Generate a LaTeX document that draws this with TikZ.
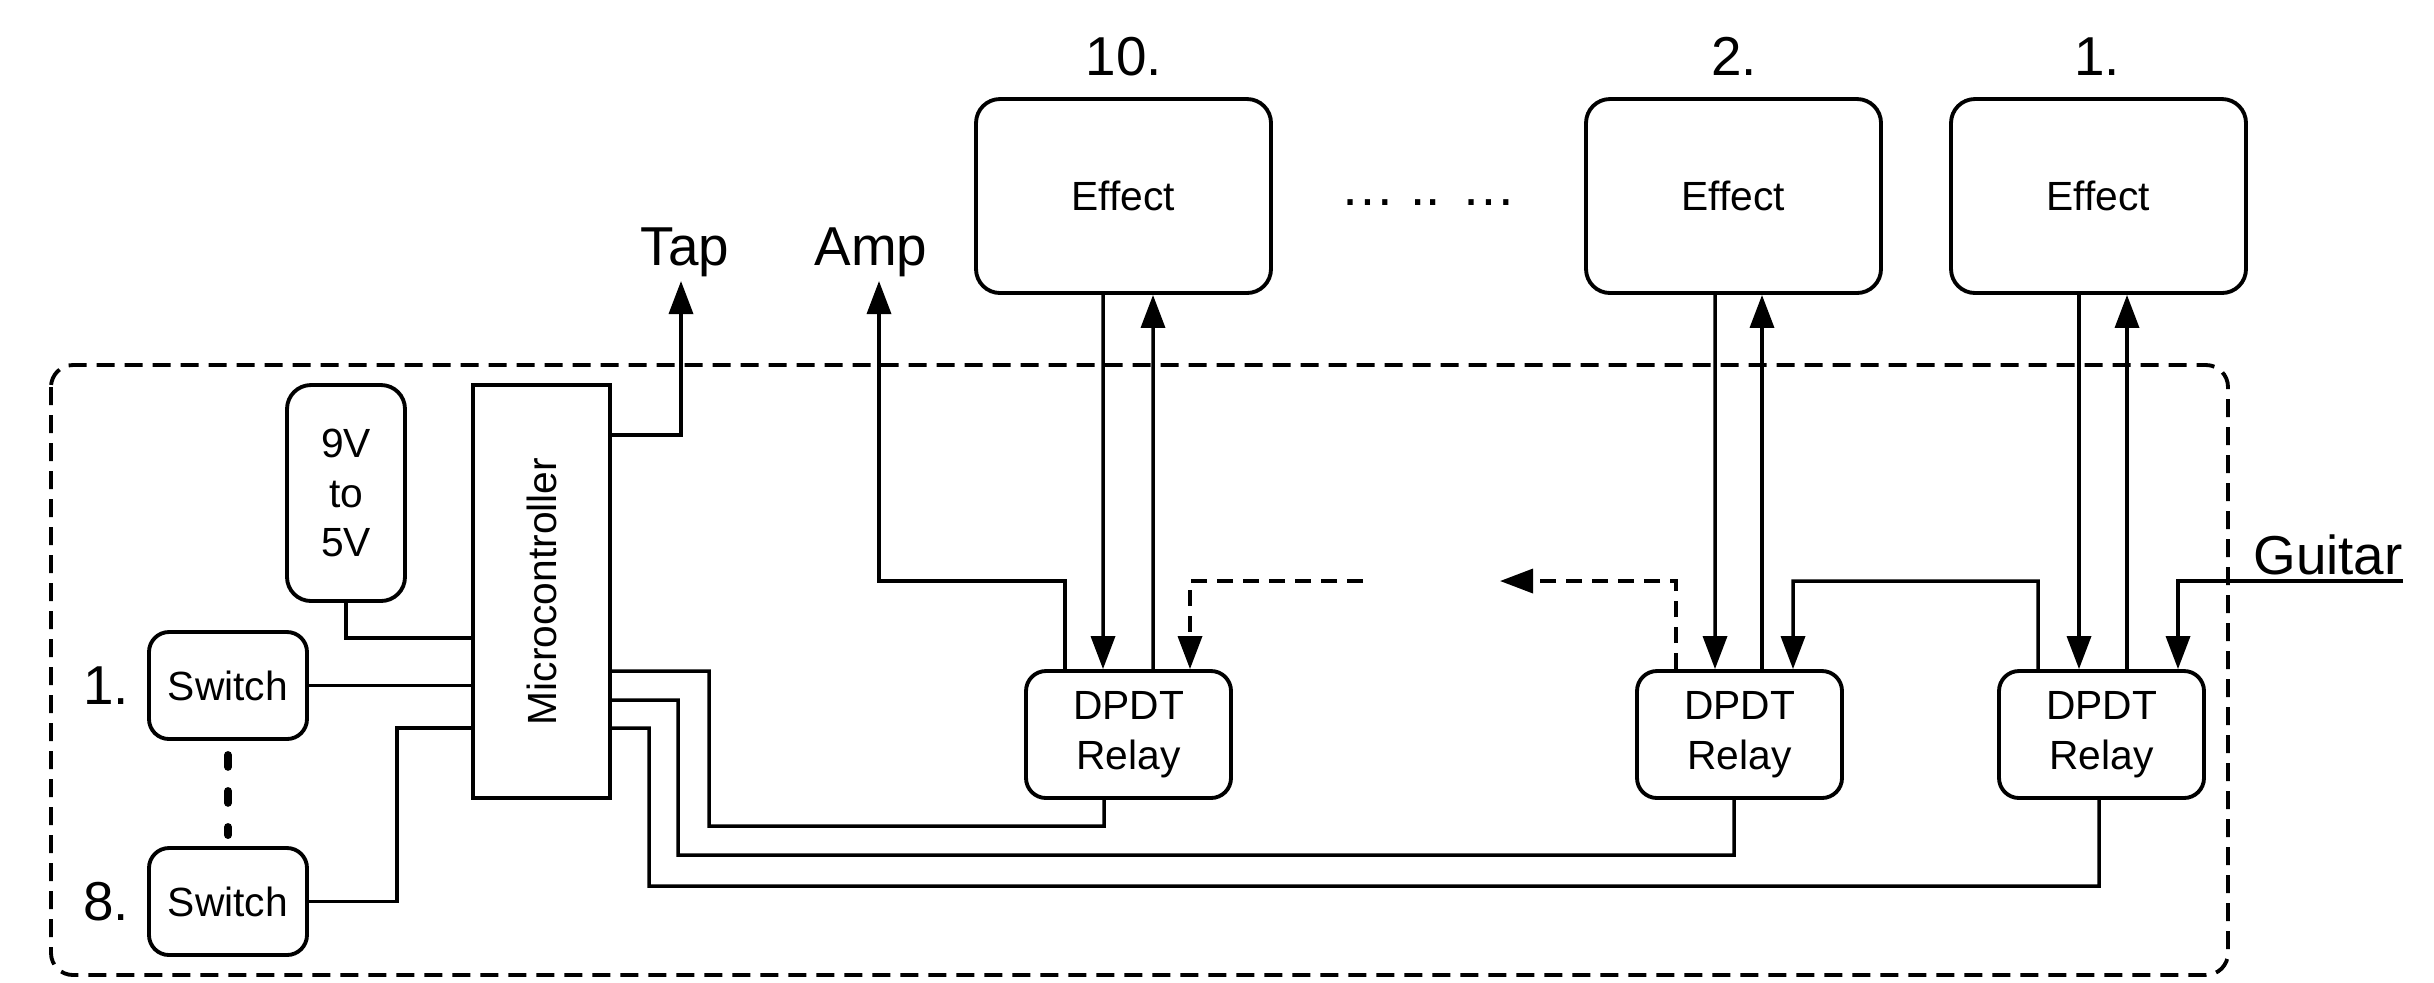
\documentclass[tikz,border=0pt]{standalone}
\usepackage{fontspec}
\setmainfont{Liberation Sans}
\usetikzlibrary{arrows.meta}
\newcommand\smfont{\fontsize{11.6}{14.2}\selectfont}
\newcommand\bgfont{\fontsize{15.6}{18}\selectfont}
\begin{document}
\begin{tikzpicture}[x=0.1mm,y=-0.1mm,
  box/.style={draw, line width=1.1pt, align=center, inner sep=0pt, font=\smfont},
  fx/.style={box, minimum width=29.5mm, minimum height=19.4mm, rounded corners=2.4mm},
  relay/.style={box, minimum width=20.5mm, minimum height=12.7mm, rounded corners=2mm},
  sw/.style={box, minimum width=15.8mm, minimum height=10.7mm, rounded corners=2mm},
  lbl/.style={font=\bgfont, anchor=base, inner sep=0pt},
  wire/.style={line width=1pt},
  arr/.style={wire, -{Triangle[length=3.3mm,width=2.4mm]}},
  darr/.style={arr, dash pattern=on 1.6mm off 1mm},
  frame/.style={line width=1.1pt, dash pattern=on 1.8mm off 1mm, rounded corners=2.2mm},
  vdots/.style={line width=2.2pt, line cap=round, dash pattern=on 1.2mm off 2.4mm}]
\useasboundingbox (0,0) rectangle (2434,982);

% frame
\draw[frame] (51,365) rectangle (2228,975);

% effects
\node[fx] (e10) at (1123.5,196) {Effect};
\node[fx] (e2) at (1733.5,196) {Effect};
\node[fx] (e1) at (2098.5,196) {Effect};
\node[lbl] (n10) at (1124,75) {10.};
\node[lbl] (n2) at (1734,75) {2.};
\node[lbl] (n1) at (2097,75) {1.};
\node[lbl] (dots) at (1428,205) {… .. …};

% relays
\node[relay] (r10) at (1128.5,734.5) {DPDT\\Relay};
\node[relay] (r2) at (1739.5,734.5) {DPDT\\Relay};
\node[relay] (r1) at (2101.5,734.5) {DPDT\\Relay};

% microcontroller, converter, switches
\node[draw, line width=1.1pt, minimum width=13.7mm, minimum height=41.3mm, inner sep=0pt] (mc) at (541.5,591.5) {};
\node[rotate=90, font=\smfont] (mclbl) at (mc.center) {Microcontroller};
\node[box, minimum width=11.8mm, minimum height=21.6mm, rounded corners=2.4mm] (cv) at (346,493) {9V\\to\\5V};
\node[sw] (sw1) at (228,685.5) {Switch};
\node[sw] (sw8) at (228,901.5) {Switch};
\node[lbl] (l1) at (106,704) {1.};
\node[lbl] (l8) at (106,920) {8.};
\draw[vdots] ([yshift=-1.4mm]sw1.south) -- ([yshift=1.1mm]sw8.north);

% outputs / inputs
\node[lbl] (tap) at (685,265) {Tap};
\node[lbl] (amp) at (871,265) {Amp};
\node[lbl] (gtr) at (2328,574) {Guitar};
\coordinate (taptip) at (681,281);
\coordinate (amptip) at (879,281);
\coordinate (gin) at (2403,581);
\coordinate (d1) at (1363,581);
\coordinate (d2) at (1500,581);

% bend points
\coordinate (bt) at (681,435);
\coordinate (b1) at (709,671);
\coordinate (b2) at (678,700);
\coordinate (b3) at (649,728);
\coordinate (bv) at (346,638);
\coordinate (b8) at (397,728);

% effect loops
\draw[arr] ([xshift=-2.05mm]e10.south) -- ([xshift=-2.55mm]r10.north);
\draw[arr] ([xshift=2.45mm]r10.north) -- ([xshift=2.95mm]e10.south);
\draw[arr] ([xshift=-1.85mm]e2.south) -- ([xshift=-2.45mm]r2.north);
\draw[arr] ([xshift=2.25mm]r2.north) -- ([xshift=2.85mm]e2.south);
\draw[arr] ([xshift=-1.95mm]e1.south) -- ([xshift=-2.25mm]r1.north);
\draw[arr] ([xshift=2.55mm]r1.north) -- ([xshift=2.85mm]e1.south);

% signal chain
\draw[arr] (gin) -| ([xshift=7.65mm]r1.north);
\draw[arr] ([xshift=-6.35mm]r1.north) |- (1793,581) -- ([xshift=5.35mm]r2.north);
\draw[darr] ([xshift=-6.35mm]r2.north) |- (d2);
\draw[darr] (d1) -| ([xshift=6.15mm]r10.north);
\draw[arr] ([xshift=-6.35mm]r10.north) |- (879,581) -- (amptip);
\draw[arr] (mc.east |- bt) -- (bt) -- (taptip);

% control lines
\draw[wire] (mc.east |- b1) -- (b1) |- (1104,826) -- ([xshift=-2.45mm]r10.south);
\draw[wire] (mc.east |- b2) -- (b2) |- (1734,855) -- ([xshift=-0.55mm]r2.south);
\draw[wire] (mc.east |- b3) -- (b3) |- (2099,886) -- ([xshift=-0.25mm]r1.south);

% left side
\draw[wire] (cv.south) -- (bv) -- (bv -| mc.west);
\draw[wire] (sw1.east) -- (sw1.east -| mc.west);
\draw[wire] (sw8.east) -| (b8) -- (b8 -| mc.west);
\end{tikzpicture}
\end{document}
